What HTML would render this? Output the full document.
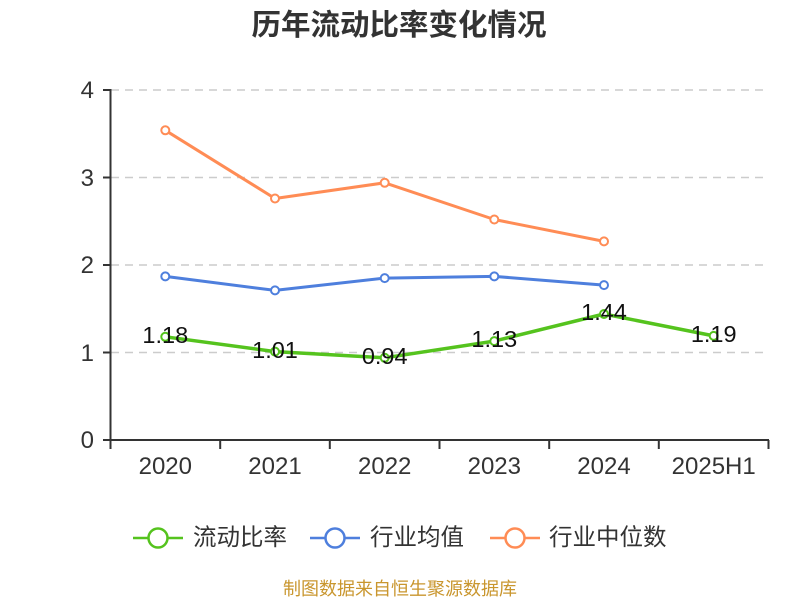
<!DOCTYPE html>
<html>
<head>
<meta charset="utf-8">
<style>
  html, body { margin: 0; padding: 0; background: #fff; }
  svg { display: block; }
  text { font-family: "Liberation Sans", "Noto Sans CJK SC", sans-serif; }
</style>
</head>
<body>
<svg width="800" height="600" viewBox="0 0 800 600" xmlns="http://www.w3.org/2000/svg">
  <rect width="800" height="600" fill="#fff"/>
  <!-- Title -->
  <text x="399" y="35" text-anchor="middle" font-size="29.5" font-weight="bold" fill="#333">历年流动比率变化情况</text>

  <!-- Grid lines -->
  <g stroke="#cccccc" stroke-width="1.5" stroke-dasharray="8,6">
    <line x1="111" y1="90" x2="769" y2="90"/>
    <line x1="111" y1="177.5" x2="769" y2="177.5"/>
    <line x1="111" y1="265" x2="769" y2="265"/>
    <line x1="111" y1="352.5" x2="769" y2="352.5"/>
  </g>

  <!-- Axes -->
  <g stroke="#333" stroke-width="2">
    <line x1="110.5" y1="89" x2="110.5" y2="441"/>
    <line x1="103" y1="90" x2="110.5" y2="90"/>
    <line x1="103" y1="177.5" x2="110.5" y2="177.5"/>
    <line x1="103" y1="265" x2="110.5" y2="265"/>
    <line x1="103" y1="352.5" x2="110.5" y2="352.5"/>
    <line x1="103" y1="440" x2="110.5" y2="440"/>
    <line x1="110" y1="440" x2="769" y2="440"/>
    <line x1="110.5" y1="440" x2="110.5" y2="449"/>
    <line x1="220.2" y1="440" x2="220.2" y2="449"/>
    <line x1="329.8" y1="440" x2="329.8" y2="449"/>
    <line x1="439.5" y1="440" x2="439.5" y2="449"/>
    <line x1="549.2" y1="440" x2="549.2" y2="449"/>
    <line x1="658.8" y1="440" x2="658.8" y2="449"/>
    <line x1="768.5" y1="440" x2="768.5" y2="449"/>
  </g>

  <!-- Y labels -->
  <g font-size="24" fill="#333" text-anchor="end">
    <text x="94" y="98">4</text>
    <text x="94" y="186">3</text>
    <text x="94" y="273">2</text>
    <text x="94" y="361">1</text>
    <text x="94" y="448">0</text>
  </g>

  <!-- X labels -->
  <g font-size="24" fill="#333" text-anchor="middle">
    <text x="165.3" y="474">2020</text>
    <text x="275" y="474">2021</text>
    <text x="384.7" y="474">2022</text>
    <text x="494.3" y="474">2023</text>
    <text x="604" y="474">2024</text>
    <text x="713.7" y="474">2025H1</text>
  </g>

  <!-- Orange series -->
  <polyline fill="none" stroke="#ff8c55" stroke-width="3" stroke-linejoin="round"
    points="165.3,130.3 275,198.5 384.7,182.8 494.3,219.5 604,241.4"/>
  <g fill="#fff" stroke="#ff8c55" stroke-width="2">
    <circle cx="165.3" cy="130.3" r="4"/>
    <circle cx="275" cy="198.5" r="4"/>
    <circle cx="384.7" cy="182.8" r="4"/>
    <circle cx="494.3" cy="219.5" r="4"/>
    <circle cx="604" cy="241.4" r="4"/>
  </g>

  <!-- Blue series -->
  <polyline fill="none" stroke="#4e7fdd" stroke-width="3" stroke-linejoin="round"
    points="165.3,276.4 275,290.4 384.7,278.1 494.3,276.4 604,285.1"/>
  <g fill="#fff" stroke="#4e7fdd" stroke-width="2">
    <circle cx="165.3" cy="276.4" r="4"/>
    <circle cx="275" cy="290.4" r="4"/>
    <circle cx="384.7" cy="278.1" r="4"/>
    <circle cx="494.3" cy="276.4" r="4"/>
    <circle cx="604" cy="285.1" r="4"/>
  </g>

  <!-- Green series -->
  <polyline fill="none" stroke="#55c31e" stroke-width="3.5" stroke-linejoin="round"
    points="165.3,336.8 275,351.6 384.7,357.8 494.3,341.1 604,314 713.7,335.9"/>
  <g fill="#fff" stroke="#55c31e" stroke-width="2">
    <circle cx="165.3" cy="336.8" r="4"/>
    <circle cx="275" cy="351.6" r="4"/>
    <circle cx="384.7" cy="357.8" r="4"/>
    <circle cx="494.3" cy="341.1" r="4"/>
    <circle cx="604" cy="314" r="4"/>
    <circle cx="713.7" cy="335.9" r="4"/>
  </g>

  <!-- Data labels -->
  <g font-size="23.5" fill="#111" text-anchor="middle">
    <text x="165.3" y="343">1.18</text>
    <text x="275" y="358">1.01</text>
    <text x="384.7" y="364">0.94</text>
    <text x="494.3" y="347">1.13</text>
    <text x="604" y="320">1.44</text>
    <text x="713.7" y="342">1.19</text>
  </g>

  <!-- Legend -->
  <g stroke-width="2.5" fill="#fff">
    <line x1="133" y1="538" x2="183" y2="538" stroke="#55c31e"/>
    <circle cx="158" cy="538" r="9.5" stroke="#55c31e"/>
    <line x1="310" y1="538" x2="360" y2="538" stroke="#4e7fdd"/>
    <circle cx="335" cy="538" r="9.5" stroke="#4e7fdd"/>
    <line x1="490" y1="538" x2="540" y2="538" stroke="#ff8c55"/>
    <circle cx="515" cy="538" r="9.5" stroke="#ff8c55"/>
  </g>
  <g font-size="23.5" fill="#333">
    <text x="193" y="545">流动比率</text>
    <text x="370" y="545">行业均值</text>
    <text x="549" y="545">行业中位数</text>
  </g>

  <!-- Footer -->
  <text x="400" y="595" text-anchor="middle" font-size="18" fill="#c9962e">制图数据来自恒生聚源数据库</text>
</svg>
</body>
</html>
